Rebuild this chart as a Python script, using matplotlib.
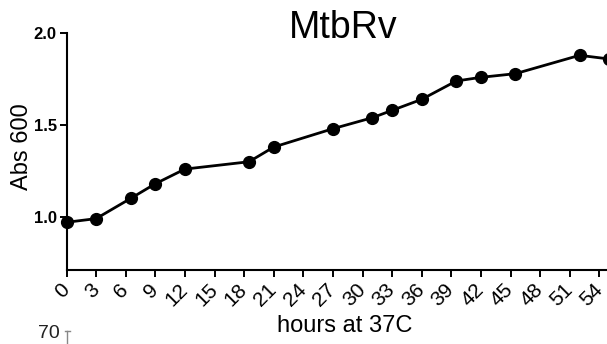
import matplotlib.pyplot as plt
import matplotlib.lines as mlines

plt.rcParams['font.family'] = ['Liberation Sans', 'DejaVu Sans']

# данные
hours = [0, 3, 6.5, 9, 12, 18.5, 21, 27, 31, 33, 36, 39.5, 42, 45.5, 52, 55]
abs600 = [0.97, 0.99, 1.10, 1.18, 1.26, 1.30, 1.38, 1.48, 1.54, 1.58,
          1.64, 1.74, 1.76, 1.78, 1.88, 1.86]
xticks = list(range(0, 57, 3))
yticks = [1.0, 1.5, 2.0]

fig = plt.figure(figsize=(6.07, 3.44), dpi=100)
# ось x выходит за правый край картинки (исходник обрезан)
ax = fig.add_axes([66.5 / 607, 74 / 344, 592 / 607, 236.7 / 344])

ax.plot(hours, abs600, color='black', lw=2, marker='o', markersize=8.5,
        clip_on=False, zorder=3)

ax.set_xlim(0, 60)
ax.set_ylim(0.71, 2.0)
ax.set_xticks(xticks)
ax.set_xticklabels([str(t) for t in xticks], rotation=45, ha='right',
                   va='center', rotation_mode='anchor', fontsize=15)
ax.set_yticks(yticks)
ax.set_yticklabels(['1.0', '1.5', '2.0'], fontsize=12, fontweight='bold')

for side in ['top', 'right']:
    ax.spines[side].set_visible(False)
for side in ['left', 'bottom']:
    ax.spines[side].set_linewidth(1.5)
ax.tick_params(width=1.4, length=5, direction='out')
ax.tick_params(axis='x', pad=7)
ax.tick_params(axis='y', pad=2)

ax.set_ylabel('Abs 600', fontsize=17)
ax.yaxis.set_label_coords(-0.057, 0.522)

fig.text(0.566, 0.918, 'MtbRv', fontsize=27, ha='center', va='center')
fig.text(344.5 / 607, 18 / 344, 'hours at 37C', fontsize=17,
         ha='center', va='center')

# кусок следующего графика снизу
fig.text(49 / 607, 11 / 344, '70', fontsize=14, ha='center', va='center',
         color='#222222')
fig.add_artist(mlines.Line2D([67 / 607, 67 / 607], [0, 13 / 344],
                             color='#888888', lw=1))
fig.add_artist(mlines.Line2D([64.5 / 607, 69.5 / 607], [13 / 344, 13 / 344],
                             color='#888888', lw=1))

fig.savefig('out.png', dpi=100)
